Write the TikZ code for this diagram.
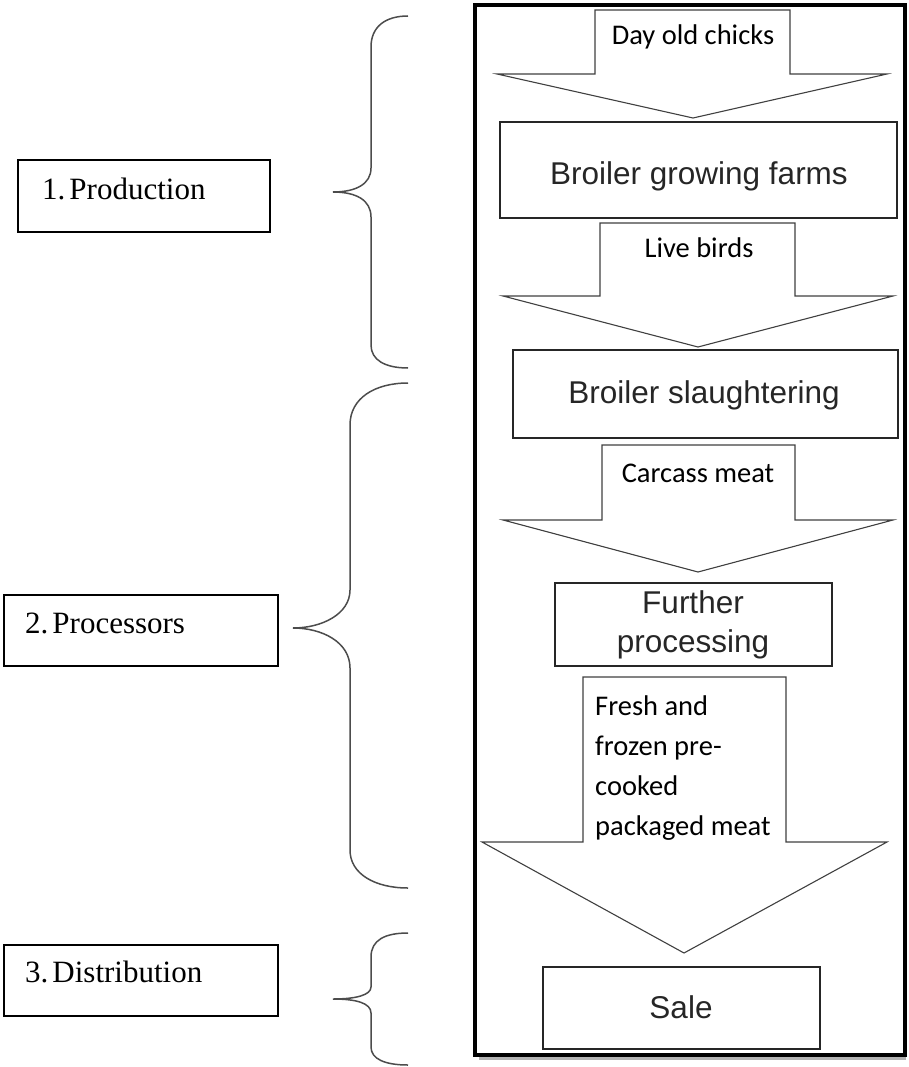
\documentclass[tikz,border=0pt]{standalone}
\usepackage{fontspec}
\newfontfamily\lblserif{Liberation Serif}
\newfontfamily\lblcal{Carlito}
\newfontfamily\lblarial{Liberation Sans}
\begin{document}
\begin{tikzpicture}[x=1pt,y=-1pt,
  stagebox/.style={draw=black,line width=1.4pt},
  flowbox/.style={draw=black!85,line width=1.8pt},
  bigarrow/.style={draw=black!75,line width=1.1pt,fill=white,line join=miter},
  bracestyle/.style={draw=black!70,line width=1.5pt},
  stagetext/.style={font=\lblserif\fontsize{31}{34}\selectfont,anchor=base west,inner sep=0pt},
  boxtext/.style={font=\lblarial\fontsize{31.5}{36}\selectfont,anchor=base,inner sep=0pt,text=black!85},
  arrowtext/.style={font=\lblcal\fontsize{28.5}{40}\selectfont,anchor=base,inner sep=0pt},
]
\useasboundingbox (0,0) rectangle (908,1067);
% outer frame with shadow
\draw[black!30,line width=3pt] (479,1058.5) -- (906,1058.5);
\draw[black,line width=3.5pt] (475,5) rectangle (905,1055);

% arrows
\draw[bigarrow] (595,10) -- (790,10) -- (790,74) -- (887,74) -- (693,118) -- (497,74) -- (595,74) -- cycle;
\draw[bigarrow] (600,223) -- (795,223) -- (795,296) -- (893,296) -- (698,347) -- (503,296) -- (600,296) -- cycle;
\draw[bigarrow] (602,445) -- (795,445) -- (795,520) -- (893,520) -- (698,572) -- (503,520) -- (602,520) -- cycle;
\draw[bigarrow] (583,677) -- (786,677) -- (786,842) -- (887,842) -- (684,953) -- (482,842) -- (583,842) -- cycle;

\node[arrowtext] (a1) at (693,45) {Day old chicks};
\node[arrowtext] (a2) at (699,258) {Live birds};
\node[arrowtext] (a3) at (698,482) {Carcass meat};
\node[arrowtext,anchor=base west] (a4a) at (595,715) {Fresh and};
\node[arrowtext,anchor=base west] (a4b) at (595,755) {frozen pre-};
\node[arrowtext,anchor=base west] (a4c) at (595,795) {cooked};
\node[arrowtext,anchor=base west] (a4d) at (595,835) {packaged meat};

% flow boxes
\draw[flowbox] (500,122) rectangle (897,218);
\node[boxtext] (b1) at (699,185) {Broiler growing farms};
\draw[flowbox] (513,350) rectangle (898,438);
\node[boxtext] (b2) at (704,403) {Broiler slaughtering};
\draw[flowbox] (555,583) rectangle (832,666);
\node[boxtext] (b3a) at (693,613) {Further};
\node[boxtext] (b3b) at (693,652) {processing};
\draw[flowbox] (543,967) rectangle (820,1049);
\node[boxtext] (b4) at (681,1018) {Sale};

% stage boxes
\draw[stagebox] (18,160) rectangle (270,232);
\node[stagetext] (s1) at (42,200) {1.\hspace{4pt}Production};
\draw[stagebox] (4,595) rectangle (278,666);
\node[stagetext] (s2) at (25,633) {2.\hspace{4pt}Processors};
\draw[stagebox] (4,945) rectangle (278,1016);
\node[stagetext] (s3) at (25,982) {3.\hspace{4pt}Distribution};

% braces
\draw[bracestyle] (408,16) .. controls (385,16) and (371,27) .. (371,47) -- (371,168)
  .. controls (371,184) and (356,192) .. (333,192)
  .. controls (356,192) and (371,200) .. (371,217) -- (371,345)
  .. controls (371,360) and (385,368) .. (408,368);
\draw[bracestyle] (408,383) .. controls (375,383) and (350,398) .. (350,425) -- (350,590)
  .. controls (350,614) and (322,628) .. (293,628)
  .. controls (322,628) and (350,642) .. (350,668) -- (350,850)
  .. controls (350,874) and (375,888) .. (408,888);
\draw[bracestyle] (408,933) .. controls (385,933) and (371,940) .. (371,957) -- (371,987)
  .. controls (371,995) and (356,999) .. (333,999)
  .. controls (356,999) and (371,1003) .. (371,1013) -- (371,1047)
  .. controls (371,1059) and (385,1065) .. (408,1065);
\end{tikzpicture}
\end{document}
